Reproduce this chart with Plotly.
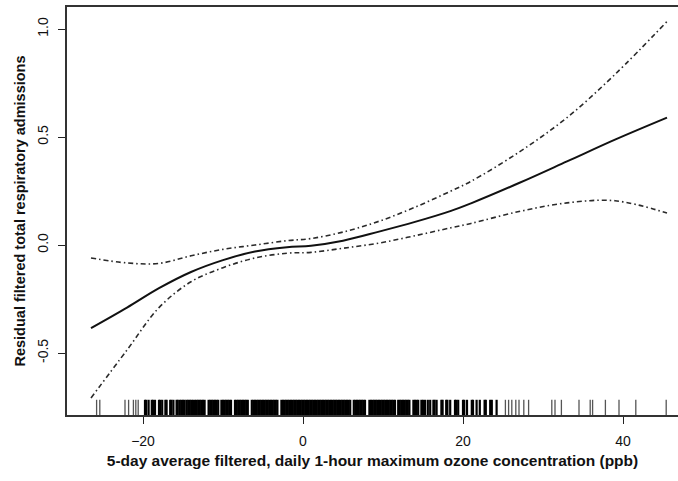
import plotly.graph_objects as go

# Smooth fit and pointwise confidence bands
ozone = [-26.5, -22, -18, -14, -10, -6, -2, 1, 5, 9.5, 14, 18.5, 21, 27, 33, 39, 45.5]
fit = [-0.385, -0.29, -0.2, -0.125, -0.07, -0.03, -0.01, -0.003, 0.02, 0.062, 0.107,
       0.158, 0.193, 0.287, 0.387, 0.488, 0.59]
upper = [-0.06, -0.083, -0.085, -0.05, -0.02, 0.0, 0.02, 0.03, 0.06, 0.11, 0.175,
         0.25, 0.295, 0.43, 0.59, 0.79, 1.035]
lower = [-0.708, -0.486, -0.29, -0.17, -0.105, -0.06, -0.038, -0.034, -0.015, 0.009,
         0.043, 0.08, 0.1, 0.155, 0.195, 0.205, 0.148]

# Rug of observed ozone values (read approximately)
rug_sparse_left = [-25.8, -25.4, -22.25, -21.8, -21.2, -20.9, -20.6]
rug_bars_left = [-19.75, -19.6, -19.3, -18.9, -18.75, -18.5, -18.0, -17.85, -17.6,
                 -17.2, -17.05, -16.6, -16.45, -16.2, -15.8, -15.65, -15.4]
rug_dense = [-15.2, -15.0, -14.8, -14.55, -14.35, -14.15, -13.95, -13.75, -13.5, -13.3,
             -13.1, -12.9, -12.7, -12.5, -12.3, -11.8, -11.6, -11.4, -11.2, -11.0,
             -10.8, -10.6, -10.2, -10.0, -9.8, -9.6, -9.4, -9.2, -9.0, -8.5, -8.3,
             -8.1, -7.9, -7.7, -7.5, -7.3, -7.1, -6.9, -6.4, -6.2, -6.0, -5.8, -5.6,
             -5.4, -5.2, -5.0, -4.8, -4.6, -4.4, -4.2, -4.0, -3.8, -3.6, -3.4, -3.2,
             -2.7, -2.5, -2.3, -2.1, -1.9, -1.7, -1.5, -1.3, -1.1, -0.9, -0.7, -0.5,
             -0.3, -0.1, 0.1, 0.3, 0.5, 0.7, 0.9, 1.1, 1.3, 1.5, 1.7, 1.9, 2.1, 2.3,
             2.5, 2.7, 2.9, 3.1, 3.3, 3.5, 3.7, 3.9, 4.1, 4.3, 4.5, 4.7, 4.9, 5.1,
             5.3, 5.5, 5.7, 5.9, 6.35, 6.55, 6.75, 6.95, 7.15, 7.35, 7.55, 7.75, 8.3,
             8.5, 8.7, 8.9, 9.1, 9.3, 9.5, 9.7, 9.9, 10.1, 10.3, 10.5, 10.7, 10.9, 11.1,
             11.3, 11.5, 11.9, 12.1, 12.3, 12.5, 12.7, 12.9, 13.1, 13.3, 13.8, 14.0,
             14.2, 14.4, 14.8, 15.0, 15.25]
rug_bars_right = [15.6, 15.9, 16.3, 16.45, 16.7, 17.3, 17.45, 17.9, 18.05, 18.4, 19.0,
                  19.15, 19.4, 20.0, 20.15, 20.5, 21.1, 21.25, 21.7, 22.1, 22.7, 22.85,
                  23.4, 23.6, 24.2]
rug_sparse_right = [25.3, 25.7, 26.1, 26.6, 27.0, 27.6, 28.2, 31.1, 31.5, 32.3, 34.5,
                    35.9, 36.2, 37.8, 39.5, 41.6, 45.4]

rug_heavy = rug_bars_left + rug_dense + rug_bars_right
rug_light = rug_sparse_left + rug_sparse_right

x_range = [-29.5, 46.875]
y_range = [-0.787, 1.102]
x_ticks = [-20, 0, 20, 40]
y_ticks = [-0.5, 0.0, 0.5, 1.0]
y_ticktext = ["-0.5", "0.0", "0.5", "1.0"]

RUG_Y = y_range[0] + 0.015 * (y_range[1] - y_range[0])

band_style = dict(color="#2a2a2a", width=1.6, dash="5px,3px,1.5px,3px")

fig = go.Figure()
fig.add_trace(go.Scatter(x=ozone, y=upper, mode="lines", line=band_style,
                         line_shape="spline", showlegend=False))
fig.add_trace(go.Scatter(x=ozone, y=lower, mode="lines", line=band_style,
                         line_shape="spline", showlegend=False))
fig.add_trace(go.Scatter(x=ozone, y=fit, mode="lines",
                         line=dict(color="#111111", width=2), line_shape="spline",
                         showlegend=False))
fig.add_trace(go.Scatter(x=rug_light, y=[RUG_Y] * len(rug_light), mode="markers",
                         marker=dict(symbol="line-ns", size=13,
                                     line=dict(color="#555555", width=1.3)),
                         showlegend=False))
fig.add_trace(go.Scatter(x=rug_heavy, y=[RUG_Y] * len(rug_heavy), mode="markers",
                         marker=dict(symbol="line-ns", size=13,
                                     line=dict(color="#000000", width=2.2)),
                         showlegend=False))

axis_font = dict(family="Liberation Sans, Arial, sans-serif", size=14, color="#111111")
xtitle_font = dict(family="Liberation Sans, Arial, sans-serif", size=15.5, color="#111111")
ytitle_font = dict(family="Liberation Sans, Arial, sans-serif", size=14.5, color="#111111")

fig.update_layout(
    width=678, height=481,
    margin=dict(l=67, r=0, t=7, b=66),
    paper_bgcolor="white", plot_bgcolor="white",
    font=axis_font,
    xaxis=dict(range=x_range, tickvals=x_ticks, ticks="outside", ticklen=7,
               tickwidth=1.3, tickcolor="#222222", showline=True, linecolor="#333333",
               linewidth=1.6, mirror=True, showgrid=False, zeroline=False,
               ticklabelstandoff=5,
               title=dict(text="<b>5-day average filtered, daily 1-hour maximum ozone concentration (ppb)</b>",
                          font=xtitle_font, standoff=8)),
    yaxis=dict(range=y_range, tickvals=y_ticks, ticktext=y_ticktext, ticks="outside",
               ticklen=7, tickwidth=1.3, tickcolor="#222222", tickangle=-90,
               showline=True, linecolor="#333333", linewidth=1.6, showgrid=False,
               zeroline=False, ticklabelstandoff=5,
               title=dict(text="<b>Residual filtered total respiratory admissions</b>",
                          font=ytitle_font, standoff=6)),
)

fig.write_html("out.html")
